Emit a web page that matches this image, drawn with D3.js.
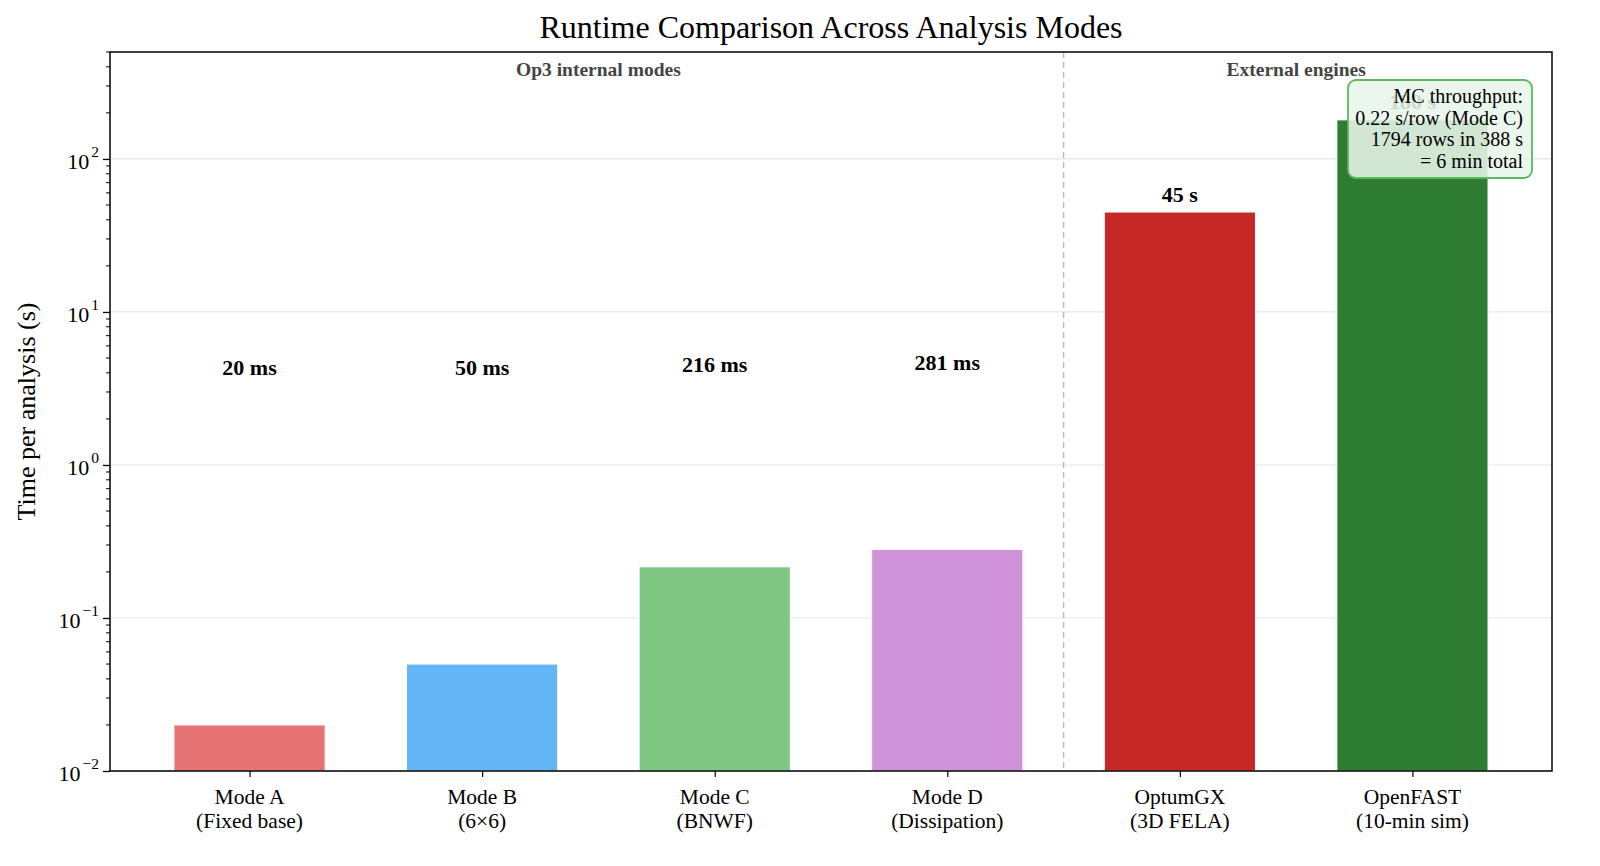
<!DOCTYPE html>
<html>
<head>
<meta charset="utf-8">
<script src="https://cdn.jsdelivr.net/npm/d3@7"></script>
<style>
  body { margin: 0; background: #fff; overflow: hidden; }
  svg { display: block; font-family: "Liberation Serif", "DejaVu Serif", serif; }
</style>
</head>
<body>
<script>
// chart data
var modes = ["Mode A", "Mode B", "Mode C", "Mode D", "OptumGX", "OpenFAST"];
var subLabels = ["(Fixed base)", "(6\u00d76)", "(BNWF)", "(Dissipation)", "(3D FELA)", "(10-min sim)"];
var runtimes = [0.020, 0.050, 0.216, 0.281, 45, 180];   // seconds per analysis
var valueLabels = ["20 ms", "50 ms", "216 ms", "281 ms", "45 s", "180 s"];
var colors = ["#e57373", "#64b5f6", "#81c784", "#ce93d8", "#c62828", "#2e7d32"];
var yTickExps = [-2, -1, 0, 1, 2];
var groups = [{name: "Op3 internal modes", from: 0, to: 3}, {name: "External engines", from: 4, to: 5}];
var noteLines = ["MC throughput:", "0.22 s/row (Mode C)", "1794 rows in 388 s", "= 6 min total"];

var width = 1600, height = 866;
var margin = {top: 52, right: 48, bottom: 95, left: 110};
var w = width - margin.left - margin.right,
    h = height - margin.top - margin.bottom;

var svg = d3.select("body").append("svg")
    .attr("width", width)
    .attr("height", height);

var g = svg.append("g").attr("transform", "translate(" + margin.left + "," + margin.top + ")");

var x = d3.scaleLinear().domain([-0.6, 5.6]).range([0, w]);
var y = d3.scaleLog().domain([0.01, 500]).range([h, 0]);
var barW = x(0.65) - x(0);

// grid
g.selectAll(".grid").data(yTickExps).enter().append("line")
    .attr("x1", 0).attr("x2", w)
    .attr("y1", function(d){ return y(Math.pow(10, d)); })
    .attr("y2", function(d){ return y(Math.pow(10, d)); })
    .attr("stroke", "#e5e5e5").attr("stroke-width", 1.2);

// bars
g.selectAll(".bar").data(runtimes).enter().append("rect")
    .attr("x", function(d, i){ return x(i) - barW / 2; })
    .attr("y", function(d){ return y(d); })
    .attr("width", barW)
    .attr("height", function(d){ return h - y(d); })
    .attr("fill", function(d, i){ return colors[i]; })
    .attr("stroke", "#fff").attr("stroke-width", 1);

// value labels
g.selectAll(".vlab").data(runtimes).enter().append("text")
    .attr("x", function(d, i){ return x(i); })
    .attr("y", function(d, i){
        // internal modes are labelled at a fixed height, externals just above the bar
        return i < 4 ? y(3.82 + d * 1.2) : y(d * 1.17);
    })
    .attr("text-anchor", "middle")
    .attr("font-weight", "bold")
    .attr("font-size", 22)
    .attr("fill", "#000")
    .text(function(d, i){ return valueLabels[i]; });

// separator
g.append("line")
    .attr("x1", x(3.5)).attr("x2", x(3.5))
    .attr("y1", 0).attr("y2", h)
    .attr("stroke", "#bbb").attr("stroke-width", 1.5)
    .attr("stroke-dasharray", "6,4");

// group titles
g.selectAll(".grp").data(groups).enter().append("text")
    .attr("x", function(d){ return x((d.from + d.to) / 2); })
    .attr("y", 24)
    .attr("text-anchor", "middle")
    .attr("font-weight", "bold")
    .attr("font-size", 19.5)
    .attr("fill", "#444")
    .text(function(d){ return d.name; });

// annotation box
var boxR = x(5.6) - 20, boxW = 184, boxTop = 28, boxH = 98;
g.append("rect")
    .attr("x", boxR - boxW).attr("y", boxTop)
    .attr("width", boxW).attr("height", boxH)
    .attr("rx", 8).attr("ry", 8)
    .attr("fill", "rgba(232,245,233,0.88)")
    .attr("stroke", "#5cb85c").attr("stroke-width", 1.8);
g.selectAll(".note").data(noteLines).enter().append("text")
    .attr("x", boxR - 9)
    .attr("y", function(d, i){ return boxTop + 23 + i * 21.5; })
    .attr("text-anchor", "end")
    .attr("font-size", 20)
    .attr("fill", "#000")
    .text(function(d){ return d; });

// y axis with minor ticks
var minor = [];
for (var e = -2; e < 3; e++) {
    for (var m = 2; m < 10; m++) {
        var v = m * Math.pow(10, e);
        if (v <= 500) minor.push(v);
    }
}
g.selectAll(".minor").data(minor).enter().append("line")
    .attr("x1", -4).attr("x2", 0)
    .attr("y1", function(d){ return y(d); })
    .attr("y2", function(d){ return y(d); })
    .attr("stroke", "#000").attr("stroke-width", 1);

var yAxis = g.append("g")
    .call(d3.axisLeft(y).tickValues(yTickExps.map(function(d){ return Math.pow(10, d); }))
        .tickSize(7).tickFormat(""));
yAxis.select(".domain").remove();
yAxis.selectAll("line").attr("stroke-width", 1.3);

var ylab = g.selectAll(".ytl").data(yTickExps).enter().append("text")
    .attr("x", -11)
    .attr("y", function(d){ return y(Math.pow(10, d)) + 10; })
    .attr("text-anchor", "end")
    .attr("font-size", 22);
ylab.append("tspan").text("10");
ylab.append("tspan")
    .attr("dx", 2)
    .attr("dy", -12)
    .attr("font-size", 15.5)
    .text(function(d){ return d < 0 ? "\u2212" + (-d) : d; });

// x axis
var xAxis = g.append("g").attr("transform", "translate(0," + h + ")")
    .call(d3.axisBottom(x).tickValues(d3.range(modes.length)).tickSize(6).tickFormat(""));
xAxis.select(".domain").remove();
xAxis.selectAll("line").attr("stroke-width", 1.2);

var xl = g.selectAll(".xtl").data(modes).enter().append("text")
    .attr("text-anchor", "middle")
    .attr("font-size", 21.5)
    .attr("transform", function(d, i){ return "translate(" + x(i) + "," + (h + 33) + ")"; });
xl.append("tspan").attr("x", 0).attr("y", 0).text(function(d){ return d; });
xl.append("tspan").attr("x", 0).attr("y", 23.5).text(function(d, i){ return subLabels[i]; });

// frame
g.append("rect")
    .attr("width", w).attr("height", h)
    .attr("fill", "none").attr("stroke", "#000").attr("stroke-width", 1.5);

// titles
svg.append("text")
    .attr("x", margin.left + w / 2).attr("y", 38)
    .attr("text-anchor", "middle")
    .attr("font-size", 32)
    .text("Runtime Comparison Across Analysis Modes");

svg.append("text")
    .attr("transform", "translate(35," + (margin.top + h / 2) + ") rotate(-90)")
    .attr("text-anchor", "middle")
    .attr("font-size", 26)
    .text("Time per analysis (s)");
</script>
</body>
</html>
